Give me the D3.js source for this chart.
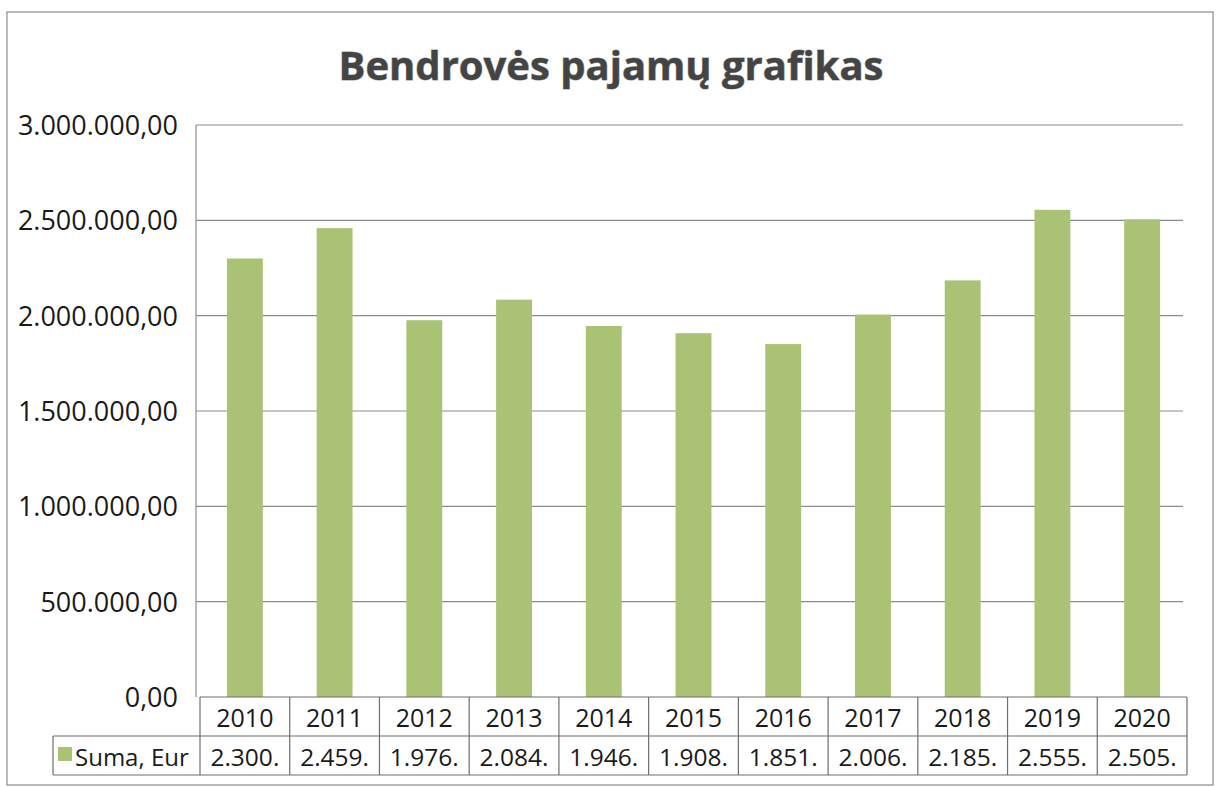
<!DOCTYPE html>
<html lang="lt">
<head>
    <meta charset="UTF-8">
    <title>Bendrovės pajamų grafikas</title>
    <script src="https://d3js.org/d3.v7.min.js"></script>
    <style>
        body {
            margin: 0;
            background: #fff;
            font-family: "Open Sans", sans-serif;
        }
        svg text {
            fill: #1a1a1a;
        }
    </style>
</head>
<body>
    <svg width="1218" height="787"></svg>

    <script>
        const years = ["2010", "2011", "2012", "2013", "2014", "2015", "2016", "2017", "2018", "2019", "2020"];
        const sums = [2300000, 2459000, 1976000, 2084000, 1946000, 1908000, 1851000, 2006000, 2185000, 2555000, 2505000];
        const yTicks = [0, 500000, 1000000, 1500000, 2000000, 2500000, 3000000];
        const seriesName = "Suma, Eur";
        const title = "Bendrovės pajamų grafikas";

        const green = "#a9c273";
        const gridColor = "#8c8c8c";

        const svg = d3.select("svg");
        const lt = d3.formatLocale({ decimal: ",", thousands: ".", grouping: [3], currency: ["", ""] });
        const fmt = lt.format(",.2f");

        const plotLeft = 196, plotRight = 1183;
        const tableLeft = 200, tableRight = 1187;
        const legendLeft = 53;
        const row1Top = 697, row1Bottom = 736, row2Bottom = 775;

        const x = d3.scaleBand()
            .domain(years)
            .range([tableLeft, tableRight])
            .paddingInner(0.6)
            .paddingOuter(0.3);

        const y = d3.scaleLinear()
            .domain([0, 3000000])
            .range([row1Top, 125]);

        // outer chart border
        svg.append("rect")
            .attr("x", 7).attr("y", 12)
            .attr("width", 1206).attr("height", 773)
            .attr("fill", "none")
            .attr("stroke", "#8a8a8a")
            .attr("stroke-width", 1.2);

        // title
        svg.append("text")
            .attr("x", 611).attr("y", 80)
            .attr("text-anchor", "middle")
            .attr("font-size", 40)
            .attr("font-weight", "bold")
            .style("fill", "#444")
            .style("paint-order", "stroke")
            .style("stroke", "#a0a0a0")
            .style("stroke-width", 1)
            .text(title);

        // gridlines
        svg.append("g")
            .selectAll("line")
            .data(yTicks.slice(1))
            .join("line")
            .attr("x1", plotLeft).attr("x2", plotRight)
            .attr("y1", d => y(d)).attr("y2", d => y(d))
            .attr("stroke", gridColor)
            .attr("stroke-width", 1.2);

        // y axis line
        svg.append("line")
            .attr("x1", plotLeft).attr("x2", plotLeft)
            .attr("y1", y(3000000)).attr("y2", row1Top)
            .attr("stroke", gridColor)
            .attr("stroke-width", 1.2);

        // y tick labels
        svg.append("g")
            .selectAll("text")
            .data(yTicks)
            .join("text")
            .attr("x", 178)
            .attr("y", d => y(d) + 10)
            .attr("text-anchor", "end")
            .attr("font-size", 27)
            .text(d => fmt(d));

        // bars
        svg.append("g")
            .selectAll("rect")
            .data(sums)
            .join("rect")
            .attr("x", (d, i) => x(years[i]))
            .attr("width", x.bandwidth())
            .attr("y", d => y(d))
            .attr("height", d => y(0) - y(d))
            .attr("fill", green);

        // data table
        const table = svg.append("g")
            .attr("fill", "none")
            .attr("stroke", "#6e6e6e")
            .attr("stroke-width", 1.2);

        table.append("line")
            .attr("x1", tableLeft).attr("x2", tableRight)
            .attr("y1", row1Top).attr("y2", row1Top);
        table.append("line")
            .attr("x1", legendLeft).attr("x2", tableRight)
            .attr("y1", row1Bottom).attr("y2", row1Bottom);
        table.append("line")
            .attr("x1", legendLeft).attr("x2", tableRight)
            .attr("y1", row2Bottom).attr("y2", row2Bottom);
        table.append("line")
            .attr("x1", legendLeft).attr("x2", legendLeft)
            .attr("y1", row1Bottom).attr("y2", row2Bottom);

        const step = x.step();
        table.selectAll("line.col")
            .data(d3.range(years.length + 1))
            .join("line")
            .attr("class", "col")
            .attr("x1", i => tableLeft + i * step).attr("x2", i => tableLeft + i * step)
            .attr("y1", row1Top).attr("y2", row2Bottom);

        // year labels
        svg.append("g")
            .selectAll("text")
            .data(years)
            .join("text")
            .attr("x", d => x(d) + x.bandwidth() / 2)
            .attr("y", row1Bottom - 9)
            .attr("text-anchor", "middle")
            .attr("font-size", 25)
            .text(d => d);

        // value labels (truncated as in the cell)
        svg.append("g")
            .selectAll("text")
            .data(sums)
            .join("text")
            .attr("x", (d, i) => x(years[i]) + x.bandwidth() / 2)
            .attr("y", row2Bottom - 9)
            .attr("text-anchor", "middle")
            .attr("font-size", 24.5)
            .text(d => fmt(d).slice(0, 6));

        // legend key
        svg.append("rect")
            .attr("x", 58).attr("y", 747)
            .attr("width", 14).attr("height", 14)
            .attr("fill", green);
        svg.append("text")
            .attr("x", 75).attr("y", row2Bottom - 9)
            .attr("font-size", 24)
            .text(seriesName);
    </script>
</body>
</html>
